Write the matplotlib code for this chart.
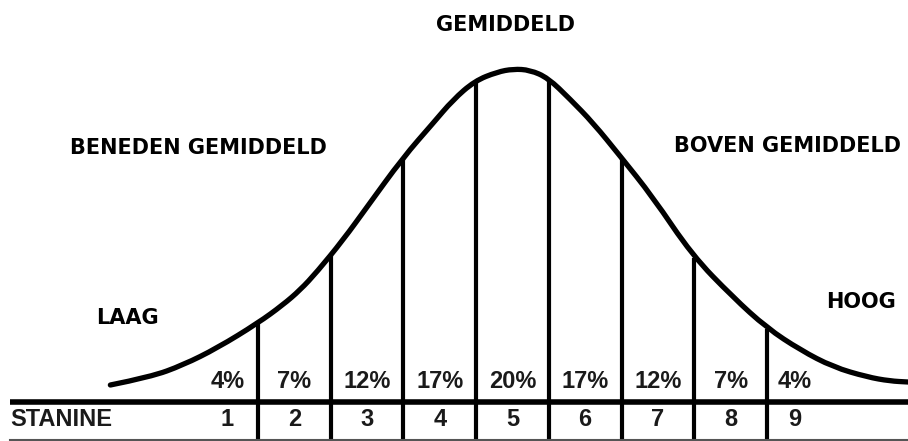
import numpy as np
import matplotlib.pyplot as plt
from matplotlib.path import Path
from matplotlib.patches import PathPatch

# ---------------------------------------------------------
# Data
# x = stanine scale (cell k spans k-0.5 .. k+0.5), y = height above table line
# ---------------------------------------------------------
curve_x = [-0.53, 0.02, 0.47, 0.94, 1.50, 1.84, 2.08, 2.31, 2.67, 3.00, 3.49,
           3.91, 4.18, 4.48, 4.79, 5.01, 5.24, 5.49, 5.79, 6.11, 6.48, 6.93,
           7.47, 8.03, 8.50, 8.96, 9.41, 9.88, 10.19, 10.44]
curve_y = [17, 25, 37, 54, 79, 97, 112, 130, 162, 195, 244,
           279, 302, 321, 330, 333, 332, 324, 303, 279, 246, 205,
           147, 105, 74, 52, 35, 25, 21, 20]

stanines = [1, 2, 3, 4, 5, 6, 7, 8, 9]
percentages = [4, 7, 12, 17, 20, 17, 12, 7, 4]
boundaries = [1.5, 2.5, 3.5, 4.5, 5.5, 6.5, 7.5, 8.5]

labels = ["LAAG", "BENEDEN GEMIDDELD", "GEMIDDELD", "BOVEN GEMIDDELD", "HOOG"]
label_pos = [(-0.29, 84), (0.68, 254), (4.90, 377), (8.78, 256), (9.79, 100)]

# ---------------------------------------------------------
# Figure
# ---------------------------------------------------------
fig = plt.figure(figsize=(9.08, 4.41), dpi=100)
ax = fig.add_axes([0, 0, 1, 1])
ax.set_xlim(-2.048, 10.44)
ax.set_ylim(-39, 402)
ax.axis("off")

bottom = -39

# bell curve: smooth path, read points used as quadratic control points
pts = list(zip(curve_x, curve_y))
verts = [pts[0]]
codes = [Path.MOVETO]
for i in range(1, len(pts) - 1):
    mid = ((pts[i][0] + pts[i + 1][0]) / 2, (pts[i][1] + pts[i + 1][1]) / 2)
    verts += [pts[i], mid]
    codes += [Path.CURVE3, Path.CURVE3]
verts.append(pts[-1])
codes.append(Path.LINETO)
ax.add_patch(PathPatch(Path(verts, codes), facecolor="none", edgecolor="black",
                       lw=3.8, capstyle="round", joinstyle="round"))

# vertical separators from curve down through the table
tops = np.interp(boundaries, curve_x, curve_y) - 1
for b, t in zip(boundaries, tops):
    ax.plot([b, b], [bottom, t], color="black", lw=3.0, solid_capstyle="butt")

# table lines
ax.plot([-1.91, 10.44], [0, 0], color="black", lw=4.0, solid_capstyle="butt")
ax.plot([-1.91, 10.44], [-38, -38], color="#555555", lw=1.5)

# percentages and stanine numbers
table_font = dict(family="Liberation Sans", fontweight="bold", fontsize=17,
                  color="#1a1a1a")
nudge = {1: 0.08, 9: -0.12}
for s, p in zip(stanines, percentages):
    xs = s + nudge.get(s, 0)
    ax.text(xs, 20, f"{p}%", ha="center", va="center", **table_font)
    ax.text(xs, -18, str(s), ha="center", va="center", **table_font)
ax.text(-1.91, -18, "STANINE", ha="left", va="center", **table_font)

# category labels
for lab, (lx, ly) in zip(labels, label_pos):
    ax.text(lx, ly, lab, ha="center", va="center", family="DejaVu Sans",
            fontweight="bold", fontsize=15, color="black")

fig.savefig("out.png", dpi=100)
